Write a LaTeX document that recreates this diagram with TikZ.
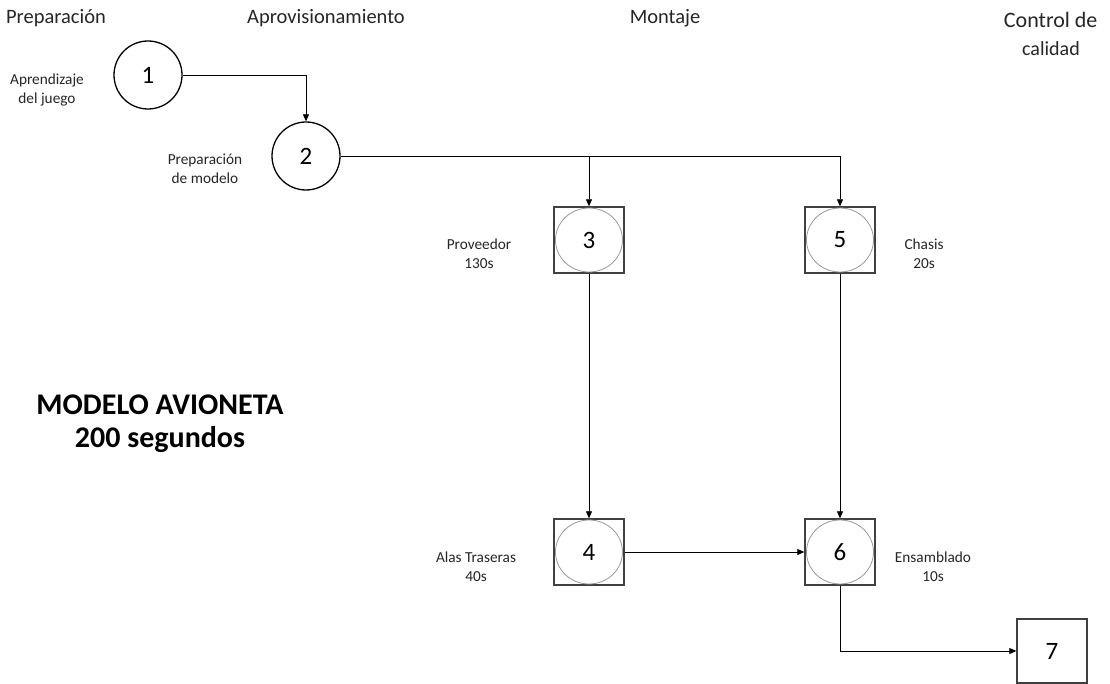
\documentclass[tikz,border=0pt]{standalone}
\usepackage{fontspec}
\setmainfont{Carlito}
\usetikzlibrary{arrows.meta,shapes.geometric}
\begin{document}
\begin{tikzpicture}[x=1pt,y=-1pt,
  numfont/.style={font=\fontsize{25}{25}\selectfont},
  circ/.style={draw=black,line width=1.3pt,circle,minimum size=68pt,inner sep=0pt,numfont},
  sqbox/.style={draw=black!75,line width=1.4pt,rectangle,minimum width=70pt,minimum height=66pt,inner sep=0pt,numfont},
  inner/.style={draw=black!40,line width=0.8pt,ellipse,minimum width=67pt,minimum height=64pt,inner sep=0pt,numfont},
  lbl/.style={font=\fontsize{15.3}{19}\selectfont,align=center,text=black!85},
  hdr/.style={font=\fontsize{20.5}{24}\selectfont,text=black!85},
  conn/.style={line width=0.8pt,-{Triangle[length=7pt,width=6pt]}}]
\path[use as bounding box,fill=white] (0,0) rectangle (1110,684);
% headers
\node[hdr] (h1) at (56,18) {Preparación};
\node[hdr] (h2) at (326,18) {Aprovisionamiento};
\node[hdr] (h3) at (665,18) {Montaje};
\node[font=\fontsize{22}{26}\selectfont,text=black!85,anchor=east] (h4) at (1101,20) {Control de};
\node[font=\fontsize{20}{24}\selectfont,text=black!85] (h5) at (1051,49) {calidad};
% nodes
\node[circ] (n1) at (148,75) {1};
\node[circ] (n2) at (306,156) {2};
\node[sqbox] (n3) at (589,240) {};
\node[sqbox] (n5) at (840,240) {};
\node[sqbox] (n4) at (589,552) {};
\node[sqbox] (n6) at (840,552) {};
\node[sqbox,minimum height=64pt] (n7) at (1052,651) {7};
\foreach \n/\t in {n3/3,n5/5,n4/4,n6/6}{
  \node[inner] at (\n) {\t};
}
% labels
\node[lbl] (l1) at (47,90) {Aprendizaje\\del juego};
\node[lbl] (l2) at (205,169) {Preparación\\de modelo};
\node[lbl] (l3) at (479,254) {Proveedor\\130s};
\node[lbl] (l5) at (924,254) {Chasis\\20s};
\node[lbl] (l4) at (476,567) {Alas Traseras\\40s};
\node[lbl] (l6) at (933,567) {Ensamblado\\10s};
\node[font=\bfseries\fontsize{30}{33}\selectfont,align=center] (title) at (160,424) {MODELO AVIONETA\\200 segundos};
% connectors
\coordinate (j1) at (n2.north |- n1.east);
\coordinate (j3) at (n3.north |- n2.east);
\coordinate (j5) at (n5.north |- n2.east);
\coordinate (j7) at (n6.south |- n7.west);
\draw[conn] (n1.east) -- (j1) -- (n2.north);
\draw[line width=0.8pt] (n2.east) -- (j5);
\draw[conn] (j3) -- (n3.north);
\draw[conn] (j5) -- (n5.north);
\draw[conn] (n3.south) -- (n4.north);
\draw[conn] (n5.south) -- (n6.north);
\draw[conn] (n4.east) -- (n6.west);
\draw[conn] (n6.south) -- (j7) -- (n7.west);
\end{tikzpicture}
\end{document}
